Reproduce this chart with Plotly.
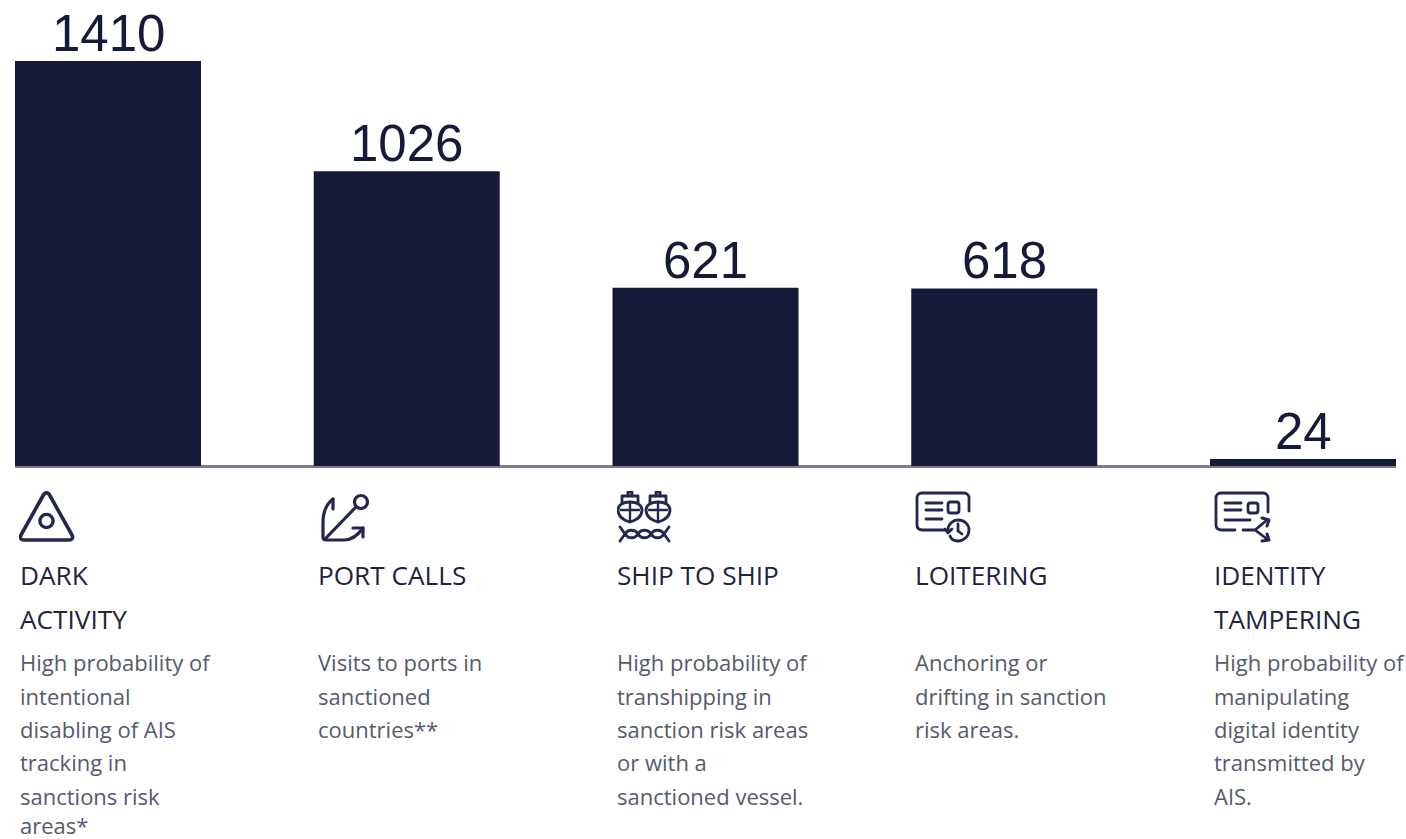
import base64
import plotly.graph_objects as go

WIDTH, HEIGHT = 1406, 839

categories = ["DARK ACTIVITY", "PORT CALLS", "SHIP TO SHIP", "LOITERING", "IDENTITY TAMPERING"]
counts = [1410, 1026, 621, 618, 24]

heading_lines = [["DARK", "ACTIVITY"], ["PORT CALLS"], ["SHIP TO SHIP"], ["LOITERING"], ["IDENTITY", "TAMPERING"]]
description_lines = [
    ["High probability of", "intentional", "disabling of AIS", "tracking in", "sanctions risk", "areas*"],
    ["Visits to ports in", "sanctioned", "countries**"],
    ["High probability of", "transhipping in", "sanction risk areas", "or with a", "sanctioned vessel."],
    ["Anchoring or", "drifting in sanction", "risk areas."],
    ["High probability of", "manipulating", "digital identity", "transmitted by", "AIS."],
]

NAVY = "#161a38"
HEADING = "#20243f"
BODY = "#565a6e"
INK = "#23264f"

# Text columns and rows, in page pixels
column_x = [17.5, 316, 615, 913, 1212]
heading_y = [575, 619]
description_y = [662, 696, 729, 762, 796, 825]


def svg(body):
    """Wrap icon strokes into a 64x64 inline SVG."""
    doc = (
        '<svg xmlns="http://www.w3.org/2000/svg" width="64" height="64" viewBox="0 0 64 64">'
        f'<g fill="none" stroke="{INK}" stroke-width="2.8" stroke-linecap="round" stroke-linejoin="round">'
        f"{body}</g></svg>"
    )
    return "data:image/svg+xml;base64," + base64.b64encode(doc.encode()).decode()


def ship(cx):
    return (
        f'<path d="M{cx-2} 5V1H{cx+2}V5"/>'
        f'<path d="M{cx-8} 12V5H{cx+8}V12"/>'
        f'<path d="M{cx-12} 19C{cx-12} 14 {cx-7} 11 {cx} 11C{cx+7} 11 {cx+12} 14 {cx+12} 19'
        f'C{cx+12} 25 {cx+7} 29 {cx} 31C{cx-7} 29 {cx-12} 25 {cx-12} 19Z"/>'
        f'<path d="M{cx} 11V31M{cx-9} 19H{cx+9}" stroke-width="2.4"/>'
    )


WAVES = (
    '<path d="M3 36L8 43C11 48 18 48 21 43C24 38 31 38 34 43C37 48 44 48 47 43L52 36"/>'
    '<path d="M3 50L8 43C11 38 18 38 21 43C24 48 31 48 34 43C37 38 44 38 47 43L52 50"/>'
)

icons = [
    svg('<path d="M25 3C26.5 1.5 28.5 1.5 30 3L53 44C54.5 47 53 49 50 49H5C2 49 .5 47 2 44Z" stroke-width="3.6"/>'
        '<circle cx="27.5" cy="30" r="6.6" stroke-width="3.4"/>'),
    svg('<circle cx="41" cy="11" r="6.5" stroke-width="3.2"/>'
        '<path d="M36 16L6 47" stroke-width="3.2"/>'
        '<path d="M13 8C5 14 3 22 3 32V46C3 48 4 49 6 49H24C31 49 38 44 43 37" stroke-width="3.2"/>'
        '<path d="M13 8V18M43 37H33M43 37V46" stroke-width="3.2"/>'),
    svg(ship(13) + ship(41) + WAVES),
    svg('<path d="M30 39H8C4 39 2 37 2 34V7C2 4 4 2 7 2H49C52 2 54 4 54 7V20"/>'
        '<path d="M11 12H27M11 19H27M11 28H27"/>'
        '<rect x="33" y="11" width="11" height="11" rx="2.5"/>'
        '<path d="M33 39C33 33 38 29 43 29C49 29 54 33 54 39C54 45 49 50 43 50C39 50 36 48 35 45"/>'
        '<path d="M43 33V40L47 43"/>'
        '<path d="M30 38L33 42L37 38"/>'),
    svg('<path d="M21 39H8C4 39 2 37 2 34V7C2 4 4 2 7 2H49C52 2 54 4 54 7V21"/>'
        '<path d="M11 12H27M11 19H27M11 29H36"/>'
        '<rect x="34" y="12" width="10" height="10" rx="2.5"/>'
        '<path d="M29 39H41L53 29M41 39L53 48"/>'
        '<path d="M48 27L55 29L53 35M53 43L55 49L48 50" stroke-width="3"/>'),
]
icon_x = [19, 320, 617, 915, 1214]
icon_y = 491


def px_x(x):
    return x / WIDTH


def px_y(y):
    return 1 - y / HEIGHT


positions = list(range(len(categories)))

fig = go.Figure(
    go.Bar(
        x=positions,
        y=counts,
        width=0.6226,
        marker=dict(color=NAVY, line=dict(width=0)),
        hovertext=categories,
    )
)

annotations = []
# Value labels sit just above each bar, anchored to its own count
for pos, value in zip(positions, counts):
    annotations.append(dict(
        x=pos, y=value, xref="x", yref="y", text=str(value), showarrow=False,
        xanchor="center", yanchor="bottom", yshift=-3,
        font=dict(family="Liberation Sans", size=51, color=NAVY),
    ))

for col, x in enumerate(column_x):
    for row, line in enumerate(heading_lines[col]):
        annotations.append(dict(
            x=px_x(x), y=px_y(heading_y[row]), xref="paper", yref="paper",
            text=line, showarrow=False, xanchor="left", yanchor="middle",
            font=dict(family="Open Sans", size=26.2, color=HEADING),
        ))
    for row, line in enumerate(description_lines[col]):
        annotations.append(dict(
            x=px_x(x), y=px_y(description_y[row]), xref="paper", yref="paper",
            text=line, showarrow=False, xanchor="left", yanchor="middle",
            font=dict(family="Open Sans", size=22, color=BODY),
        ))

images = [
    dict(source=src, xref="paper", yref="paper", x=px_x(x), y=px_y(icon_y),
         sizex=64 / WIDTH, sizey=64 / HEIGHT, xanchor="left", yanchor="top", layer="above")
    for src, x in zip(icons, icon_x)
]

# 405 px of bar height for the tallest count, baseline at y = 466 px
PX_PER_COUNT = 405 / 1410
fig.update_layout(
    width=WIDTH, height=HEIGHT,
    margin=dict(l=0, r=0, t=0, b=0),
    paper_bgcolor="white", plot_bgcolor="white",
    showlegend=False,
    annotations=annotations,
    images=images,
    xaxis=dict(domain=[15 / WIDTH, 1396 / WIDTH], range=[-0.3113, 4.3113],
               visible=False, fixedrange=True),
    yaxis=dict(range=[-(HEIGHT - 466) / PX_PER_COUNT, 466 / PX_PER_COUNT],
               showgrid=False, showticklabels=False, ticks="",
               zeroline=True, zerolinecolor="#7d7f8c", zerolinewidth=2.5, fixedrange=True),
)

fig.write_html("out.html", config={"displayModeBar": False})
